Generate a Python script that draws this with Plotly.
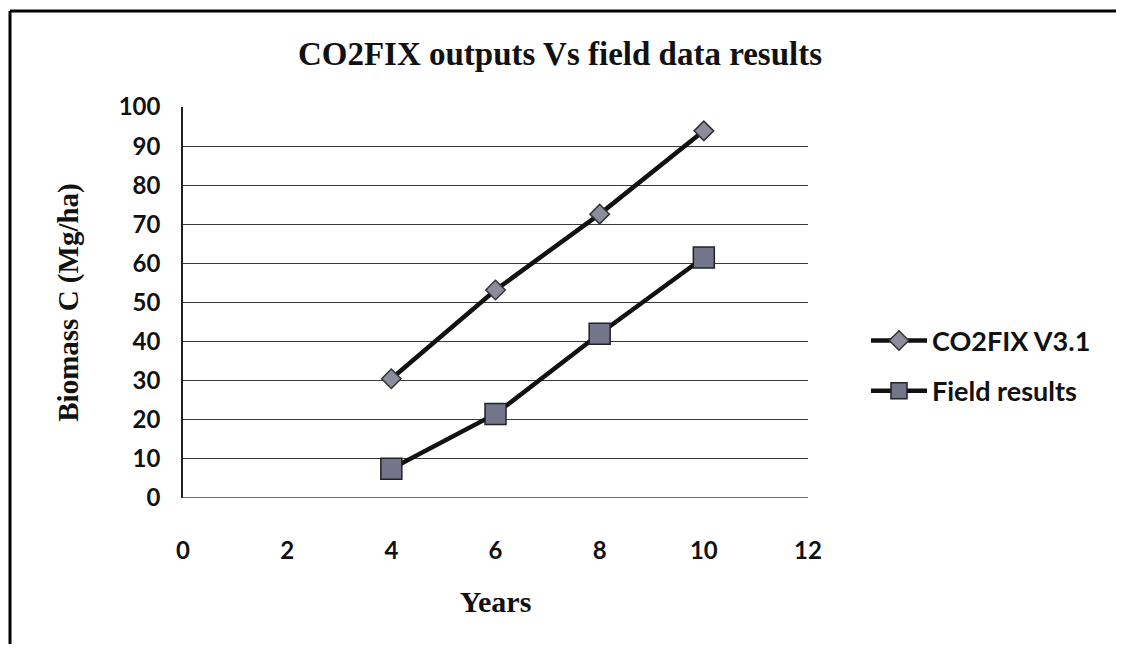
import plotly.graph_objects as go

years = [4, 6, 8, 10]
co2fix = [30.5, 53.2, 72.6, 93.9]
field = [7.5, 21.5, 42.0, 61.5]
x_ticks = [0, 2, 4, 6, 8, 10, 12]
y_ticks = [0, 10, 20, 30, 40, 50, 60, 70, 80, 90, 100]

# page body has an 8px margin; work in page coordinates and shift
OFF = 8
W, H = 1124 - 2 * OFF, 652 - 2 * OFF
L, R, T, B = 183 - OFF, 808 - OFF, 107 - OFF, 498 - OFF

fig = go.Figure()
fig.add_trace(go.Scatter(
    x=years, y=co2fix, mode="lines+markers", name="CO2FIX V3.1",
    legendgroup="a",
    line=dict(color="#111111", width=4.5),
    marker=dict(symbol="diamond", size=15, color="#8c8c9c",
                line=dict(color="#333333", width=1.5)),
))
fig.add_trace(go.Scatter(
    x=years, y=field, mode="lines+markers", name="Field results",
    legendgroup="b",
    line=dict(color="#111111", width=4.5),
    marker=dict(symbol="square", size=21, color="#74748a",
                line=dict(color="#222222", width=1.5)),
))

def px_x(p):
    return (p - OFF - L) / (R - L)

def px_y(p):
    return (B - (p - OFF)) / (B - T)

# outer frame (left and top edges)
fig.add_shape(type="line", xref="paper", yref="paper",
              x0=px_x(10), x1=px_x(1130), y0=px_y(11), y1=px_y(11),
              line=dict(color="black", width=3))
fig.add_shape(type="line", xref="paper", yref="paper",
              x0=px_x(10), x1=px_x(10), y0=px_y(11), y1=px_y(670),
              line=dict(color="black", width=3))

fig.update_layout(
    width=W, height=H,
    margin=dict(l=L, r=W - R, t=T, b=H - B),
    paper_bgcolor="white", plot_bgcolor="white",
    title=dict(text="<b>CO2FIX outputs Vs field data results</b>",
               x=(560 - OFF) / W, xanchor="center", y=1 - (53 - OFF) / H, yanchor="middle",
               font=dict(family="Liberation Serif", size=33, color="#111111")),
    xaxis=dict(
        range=[0, 12], tickvals=x_ticks, ticks="", showgrid=False,
        zeroline=False, showline=False, ticklabelstandoff=36,
        tickfont=dict(family="Lato", size=24, color="#111111", weight="bold"),
        title=dict(text="<b>Years</b>", standoff=27,
                   font=dict(family="Liberation Serif", size=30, color="#111111")),
    ),
    yaxis=dict(
        range=[0, 100], tickvals=y_ticks, ticks="",
        showgrid=True, gridcolor="#3a3a3a", gridwidth=1.3,
        zeroline=False, showline=True, linecolor="#222222", linewidth=1.5,
        ticklabelstandoff=16,
        tickfont=dict(family="Lato", size=24, color="#111111", weight="bold"),
        title=dict(text="<b>Biomass C (Mg/ha)</b>", standoff=32,
                   font=dict(family="Liberation Serif", size=29, color="#111111")),
    ),
    showlegend=True,
    legend=dict(x=px_x(866), xanchor="left", y=px_y(366), yanchor="middle",
                traceorder="grouped", tracegroupgap=12,
                font=dict(family="Lato", size=27, color="#111111", weight="bold"),
                itemwidth=56, bgcolor="rgba(0,0,0,0)"),
)
fig.add_shape(type="line", xref="paper", yref="y", x0=0, x1=1, y0=0, y1=0,
              line=dict(color="#3a3a3a", width=1.3))

fig.write_html("out.html")
